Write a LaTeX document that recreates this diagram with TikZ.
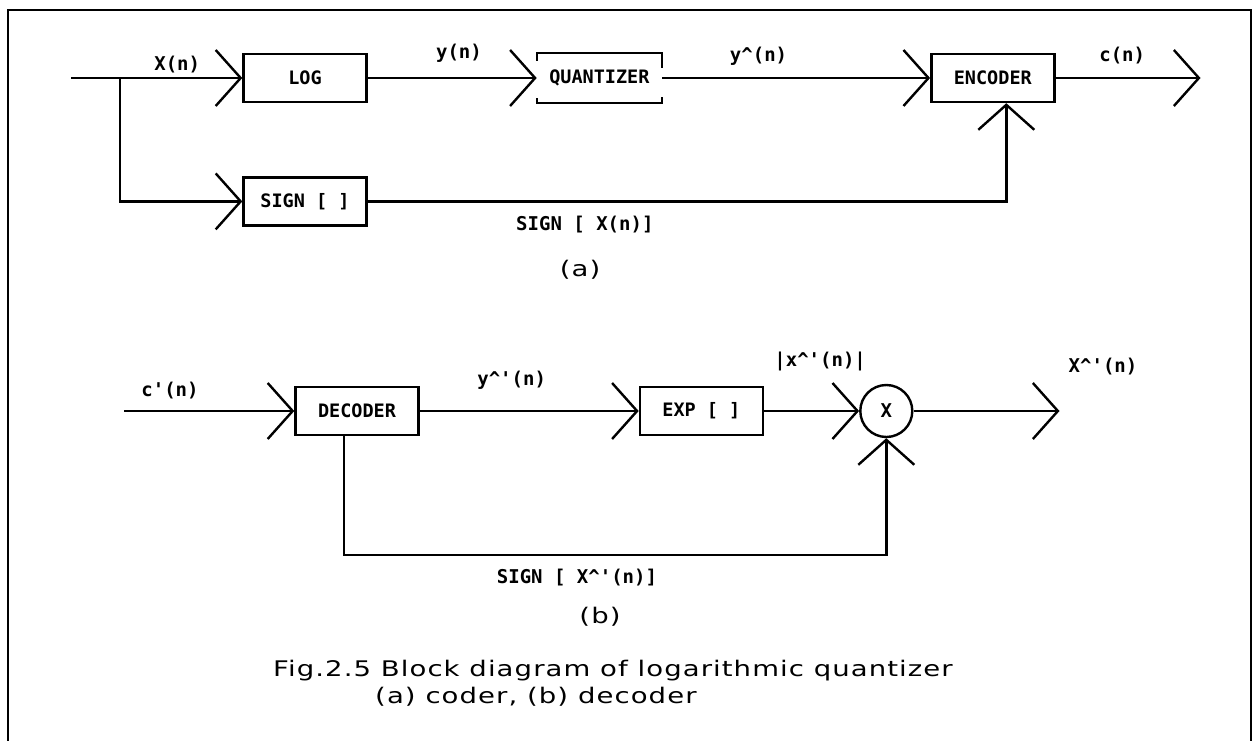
\documentclass[tikz,border=0pt]{standalone}
\usepackage{fontspec}
\newfontfamily\plotfont{DejaVu Sans Mono}
\newfontfamily\capfont{DejaVu Sans}[FakeStretch=1.28, LetterSpace=5]
\usetikzlibrary{arrows.meta, positioning}

\begin{document}
\begin{tikzpicture}[
    x=1pt, y=-1pt,
    block/.style={rectangle, draw, line width=2.4pt, minimum width=123pt,
                  minimum height=48pt, inner sep=2pt,
                  font=\plotfont\bfseries\fontsize{18.5}{22}\selectfont},
    mult/.style={circle, draw, line width=2.4pt, minimum size=52pt,
                 inner sep=0pt, font=\plotfont\bfseries\fontsize{19}{22}\selectfont},
    lbl/.style={inner sep=0pt, font=\plotfont\bfseries\fontsize{19}{22}\selectfont},
    capt/.style={inner sep=0pt, font=\capfont\fontsize{21.5}{24}\selectfont},
    arrow/.style={-{Straight Barb[length=25pt, width=56pt]}, line width=2.4pt},
    wire/.style={line width=2.4pt},
    frame/.style={line width=2.8pt}
]

\useasboundingbox (0,0) rectangle (1259,741);
\draw[frame] (8,741) -- (8,10) -- (1251,10) -- (1251,741);

%% --- (a) CODER ---
\node[block] (log) at (305,78) {LOG};
\node[block, right=169pt of log, draw=none] (quant) {QUANTIZER};
\node[block, right=268pt of quant] (encoder) {ENCODER};
\node[block, below=73pt of log] (sign) {SIGN [ ]};

\coordinate (xin) at (71,78);
\coordinate (split) at (120,78);
\coordinate[right=145pt of encoder] (cout);

% bracket outline of the quantizer
\draw[wire] ([yshift=-8pt]quant.north west) -- (quant.north west)
    -- (quant.north east) -- ([yshift=-15pt]quant.north east);
\draw[wire] ([yshift=5pt]quant.south west) -- (quant.south west)
    -- (quant.south east) -- ([yshift=6pt]quant.south east);

\draw[arrow] (xin) -- node[lbl, above=4pt, pos=0.62] {X(n)} (log);
\draw[arrow] (split) |- (sign);
\draw[arrow] (log) -- node[lbl, above=14pt, pos=0.54] {y(n)} (quant);
\draw[arrow] (quant) -- node[lbl, above=11pt, pos=0.36] {y\textasciicircum(n)} (encoder);
\draw[arrow] (encoder) -- node[lbl, above=13pt, pos=0.46] {c(n)} (cout);
\draw[arrow] (sign) -| node[lbl, below=13pt, pos=0.17] {SIGN [ X(n)]}
    ([xshift=13.5pt]encoder.south);

\node[capt] (cap_a) at (580,270) {(a)};

%% --- (b) DECODER ---
\node[block] (decoder) at (357,411) {DECODER};
\node[block, right=219pt of decoder] (exp) {EXP [ ]};
\node[mult, right=95pt of exp] (prod) {X};

\coordinate (cin) at (124,411);
\coordinate[right=146pt of prod] (xout);
\coordinate (sgnb) at (577,555);

\draw[arrow] (cin) -- node[lbl, above=11pt, pos=0.27] {c\textquotesingle(n)} (decoder);
\draw[arrow] (decoder) -- node[lbl, above=20pt, pos=0.42]
    {y\textasciicircum\textquotesingle(n)} (exp);
\draw[arrow] (exp) -- node[lbl, above=39pt, pos=0.59]
    {|x\textasciicircum\textquotesingle(n)|} (prod);
\draw[arrow] (prod) -- (xout);
\draw[arrow] ([xshift=-13pt]decoder.south) |- (sgnb)
    node[lbl, below=13pt] {SIGN [ X\textasciicircum\textquotesingle(n)]} -| (prod.south);
\node[lbl, above right=36pt and 9pt of xout] (xhat) {X\textasciicircum\textquotesingle(n)};

\node[capt] (cap_b) at (600,617) {(b)};

%% --- CAPTION ---
\node[capt, anchor=west] (cap1) at (273,671)
    {Fig.2.5 Block diagram of logarithmic quantizer};
\node[capt, anchor=west] (cap2) at (375,697) {(a) coder, (b) decoder};

\end{tikzpicture}
\end{document}
